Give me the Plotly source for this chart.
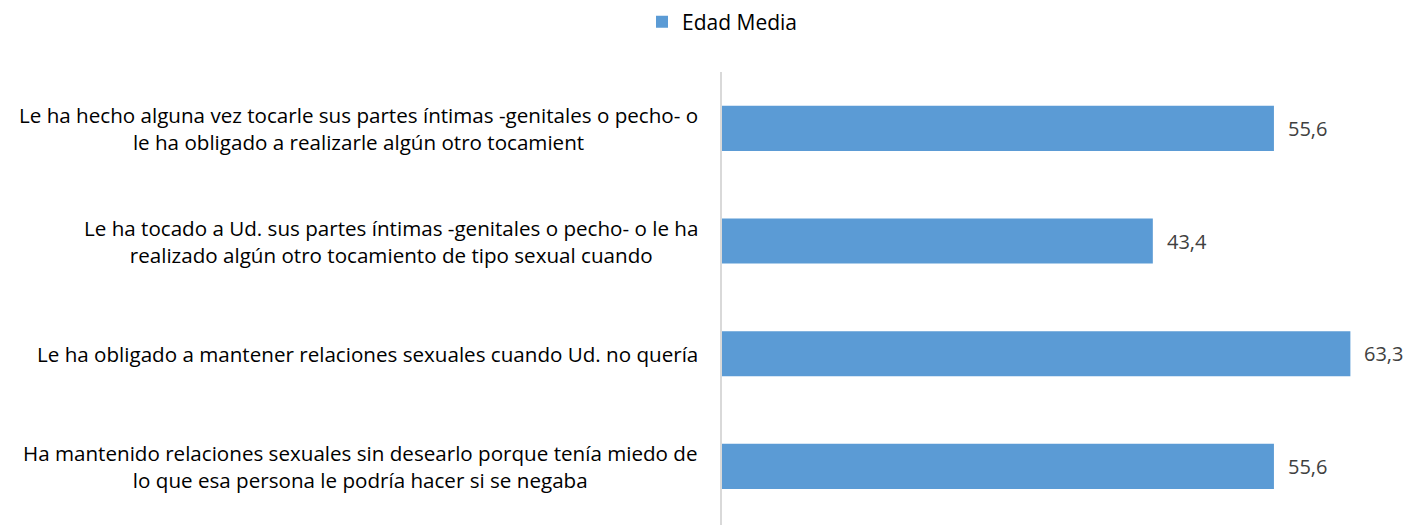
import plotly.graph_objects as go

categories = [
    "Le ha hecho alguna vez tocarle sus partes íntimas -genitales o pecho- o<br>le ha obligado a realizarle algún otro tocamient",
    "Le ha tocado a Ud. sus partes íntimas -genitales o pecho- o le ha<br>realizado algún otro tocamiento de tipo sexual cuando",
    "Le ha obligado a mantener relaciones sexuales cuando Ud. no quería",
    "Ha mantenido relaciones sexuales sin desearlo porque tenía miedo de<br>lo que esa persona le podría hacer si se negaba",
]
values = [55.6, 43.4, 63.3, 55.6]
series_name = "Edad Media"

FONT = "'Open Sans', sans-serif"
BAR = "#5B9BD5"
FS = 20.6

# page body has an 8px margin; compensate
OFF = 8
W, H = 1412 - OFF, 525 - OFF

fig = go.Figure()
fig.add_trace(go.Bar(
    y=list(range(len(categories))), x=values, orientation="h",
    name=series_name, marker=dict(color=BAR, line=dict(width=0)),
    width=0.4, showlegend=True,
))

annotations = []
for i, (c, v) in enumerate(zip(categories, values)):
    annotations.append(dict(
        xref="paper", x=0, yref="y", y=i, xanchor="right", yanchor="middle",
        xshift=-22, text=c, align="center", showarrow=False,
        font=dict(family=FONT, size=FS, color="#000000"),
    ))
    annotations.append(dict(
        xref="x", x=v, yref="y", y=i, xanchor="left", yanchor="middle",
        xshift=12, text=f"{v:.1f}".replace(".", ","), showarrow=False,
        font=dict(family=FONT, size=20, color="#404040"),
    ))

fig.update_layout(
    width=W, height=H,
    margin=dict(l=722 - OFF, r=W - (1402 - OFF), t=72 - OFF, b=0),
    paper_bgcolor="white", plot_bgcolor="white",
    font=dict(family=FONT, size=FS, color="#404040"),
    showlegend=True,
    legend=dict(orientation="h", x=(722 - OFF) / W, xref="container", xanchor="center",
                y=1 - (22 - OFF) / H, yref="container", yanchor="middle",
                font=dict(family=FONT, size=21, color="#000000"),
                itemwidth=30, tracegroupgap=0),
    xaxis=dict(range=[0, 68.5], showgrid=False, zeroline=False, showticklabels=False,
               showline=False, fixedrange=True),
    yaxis=dict(range=[3.52, -0.5], showgrid=False, zeroline=False, showticklabels=False,
               showline=True, linecolor="#D9D9D9", linewidth=2, ticks=""),
    annotations=annotations,
)

fig.write_html("out.html")
